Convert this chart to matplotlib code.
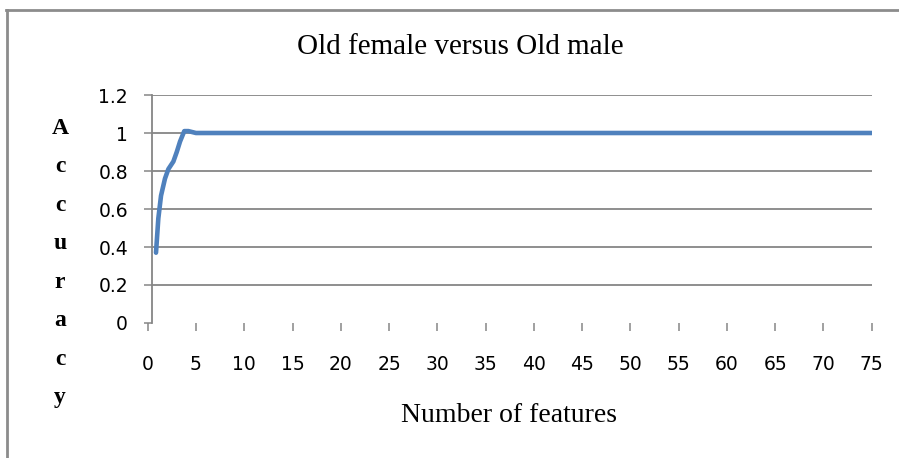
import matplotlib.pyplot as plt
from matplotlib.lines import Line2D

features = [0.86, 1.1, 1.38, 1.79, 2.14, 2.66, 3.01, 3.35, 3.79, 4.21, 5, 10, 20, 30, 40, 50, 60, 70, 75]
accuracy = [0.37, 0.55, 0.67, 0.76, 0.81, 0.85, 0.90, 0.955, 1.01, 1.01, 1.0, 1.0, 1.0, 1.0, 1.0, 1.0, 1.0, 1.0, 1.0]

x_ticks = list(range(0, 80, 5))
y_ticks = [0, 0.2, 0.4, 0.6, 0.8, 1.0, 1.2]
y_labels = ["0", "0.2", "0.4", "0.6", "0.8", "1", "1.2"]

fig = plt.figure(figsize=(8.99, 4.58), dpi=100)
ax = fig.add_axes([147.7 / 899, 1 - 323 / 458, (871.7 - 147.7) / 899, (323 - 95) / 458])

grid_col = "#868686"
ax.hlines(y_ticks[1:], 0.48, 75, color=grid_col, lw=1.3, zorder=1)
ax.plot(features, accuracy, color="#4F81BD", lw=3.3, solid_capstyle="round", zorder=3)

ax.set_xlim(0, 75)
ax.set_ylim(0, 1.2)
for s in ["top", "right", "bottom"]:
    ax.spines[s].set_visible(False)
ax.spines["left"].set_position(("data", 0.48))
ax.spines["left"].set_color(grid_col)
ax.spines["left"].set_linewidth(1.3)

ax.set_xticks(x_ticks)
ax.set_xticklabels([str(t) for t in x_ticks], fontname="DejaVu Sans", fontsize=13.5)
ax.set_yticks(y_ticks)
ax.set_yticklabels(y_labels, fontname="DejaVu Sans", fontsize=13.5)
ax.tick_params(axis="x", direction="out", length=6, width=1.1, color=grid_col, pad=17)
ax.tick_params(axis="y", direction="out", length=6, width=1.1, color=grid_col, pad=11.5)

fig.text(460 / 899, 1 - 47 / 458, "Old female versus Old male", fontname="Liberation Serif",
         fontsize=21, ha="center", va="center")
fig.text(509 / 899, 1 - 415 / 458, "Number of features", fontname="Liberation Serif",
         fontsize=20, ha="center", va="center")
fig.text(60 / 899, 1 - 263 / 458, "\n".join("Accuracy"), fontname="Liberation Serif",
         fontsize=17, fontweight="bold", ha="center", va="center", linespacing=2.09)

# chart frame (left and top only visible)
fig.add_artist(Line2D([7 / 899, 7 / 899], [0, 1 - 10 / 458], transform=fig.transFigure, color="#8c8c8c", lw=2))
fig.add_artist(Line2D([6 / 899, 1], [1 - 10 / 458, 1 - 10 / 458], transform=fig.transFigure, color="#8c8c8c", lw=2))

fig.savefig("out.png", dpi=100)
